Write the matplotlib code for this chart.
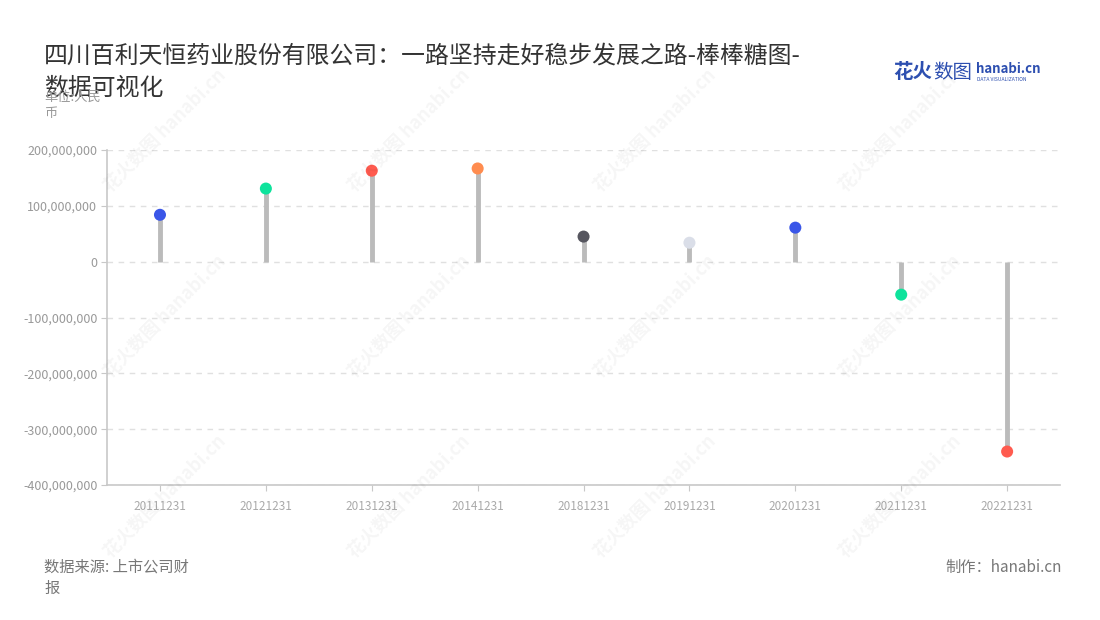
import matplotlib.pyplot as plt
from matplotlib.ticker import FuncFormatter

plt.rcParams['font.family'] = ['Noto Sans CJK SC', 'DejaVu Sans']

# 数据
dates = ['20111231', '20121231', '20131231', '20141231', '20181231',
         '20191231', '20201231', '20211231', '20221231']
values = [84e6, 131e6, 163e6, 167e6, 45e6, 34e6, 61e6, -59e6, -340e6]
dot_colors = ['#3a56e8', '#0ee39c', '#ff5b4f', '#ff8c4f', '#56565f',
              '#dadee8', '#3a56e8', '#0ee39c', '#ff5b4f']
y_ticks = [-400e6, -300e6, -200e6, -100e6, 0, 100e6, 200e6]

fig = plt.figure(figsize=(11, 6.2), dpi=100)
ax = fig.add_axes([0.0973, 0.2177, 0.8664, 0.5403])

x = list(range(len(dates)))

# 棒棒糖: 竖线 + 圆点
ax.vlines(x, 0, values, color='#bbbbbb', linewidth=3.5, zorder=2)
ax.scatter(x, values, s=75, c=dot_colors, zorder=3, linewidths=0)

ax.set_xlim(-0.5, len(dates) - 0.5)
ax.set_ylim(-400e6, 200e6)
ax.set_yticks(y_ticks)
ax.yaxis.set_major_formatter(FuncFormatter(lambda v, p: f'{int(v):,}'))
ax.set_xticks(x)
ax.set_xticklabels(dates)

ax.grid(axis='y', linestyle=(0, (4, 4)), color='#e0e0e0', linewidth=1, zorder=0)
for s in ['top', 'right']:
    ax.spines[s].set_visible(False)
for s in ['left', 'bottom']:
    ax.spines[s].set_color('#c8c8c8')
    ax.spines[s].set_linewidth(1.2)
ax.tick_params(axis='both', colors='#c8c8c8', labelcolor='#999999', length=4)
ax.tick_params(axis='y', labelsize=9, pad=3)
ax.tick_params(axis='x', labelsize=8.5, pad=7, labelcolor='#aaaaaa')

# 标题
fig.text(0.04, 0.91, '四川百利天恒药业股份有限公司：一路坚持走好稳步发展之路-棒棒糖图-',
         fontsize=17.2, color='#333333', va='center')
fig.text(0.04, 0.858, '数据可视化', fontsize=17.2, color='#333333', va='center')
fig.text(0.04, 0.843, '单位:人民', fontsize=9.5, color='#999999', va='center')
fig.text(0.04, 0.817, '币', fontsize=9.5, color='#999999', va='center')

# logo
fig.text(0.812, 0.883, '花火', fontsize=14, color='#2d4fb0', fontweight='bold', va='center')
fig.text(0.848, 0.883, '数图', fontsize=14, color='#2d4fb0', va='center')
fig.text(0.887, 0.889, 'hanabi.cn', fontsize=9.5, color='#2d4fb0', fontweight='bold', va='center')
fig.text(0.888, 0.872, 'DATA VISUALIZATION', fontsize=3.6, color='#2d4fb0', va='center')

# 水印
for wx in [0.15, 0.372, 0.595, 0.818]:
    for wy in [0.79, 0.49, 0.2]:
        fig.text(wx, wy, '花火数图 hanabi.cn', fontsize=13, color='#000000', alpha=0.04,
                 rotation=45, ha='center', va='center', fontweight='bold')

# 页脚
fig.text(0.04, 0.085, '数据来源: 上市公司财', fontsize=11, color='#777777', va='center')
fig.text(0.04, 0.051, '报', fontsize=11, color='#777777', va='center')
fig.text(0.965, 0.085, '制作：hanabi.cn', fontsize=11, color='#777777', va='center', ha='right')

fig.savefig('out.png', dpi=100)
